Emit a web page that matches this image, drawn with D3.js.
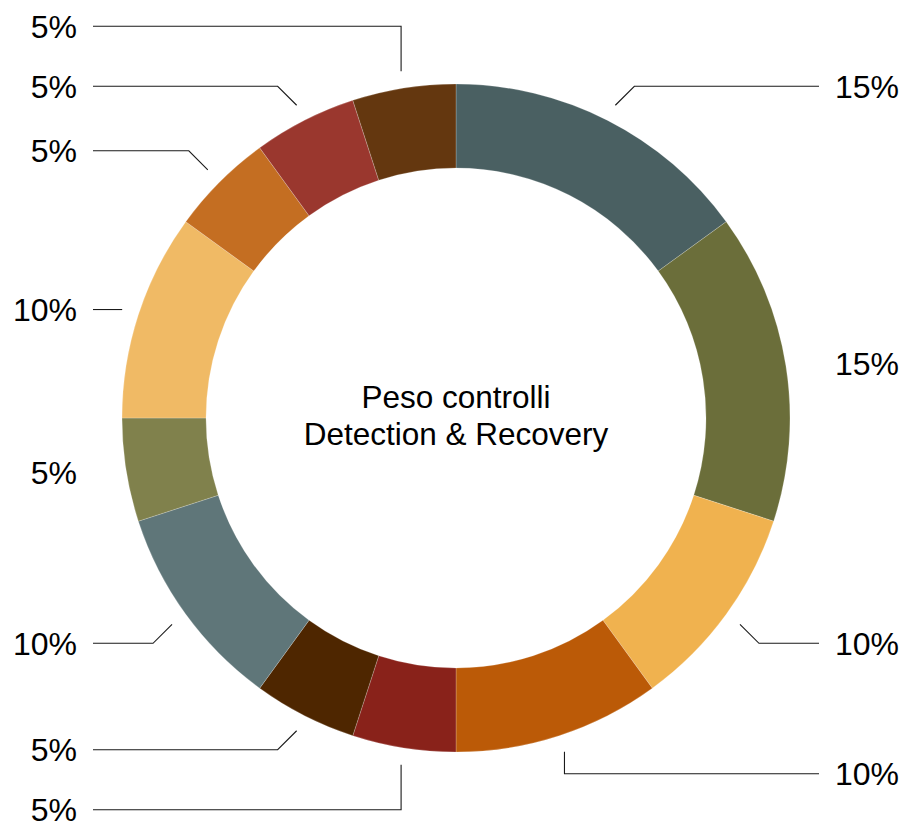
<!DOCTYPE html>
<html>
<head>
<meta charset="utf-8">
<script src="https://cdn.jsdelivr.net/npm/d3@7"></script>
<style>
  html, body { margin: 0; padding: 0; background: #fff; }
  svg { display: block; }
  text { font-family: "Liberation Sans", Arial, Helvetica, sans-serif; fill: #000; }
</style>
</head>
<body>
<svg id="chart" width="901" height="821"></svg>
<script>
// Control weights, clockwise from 12 o'clock
const categories = ["A", "B", "C", "D", "E", "F", "G", "H", "I", "J", "K", "L"];
const values = [15, 15, 10, 10, 5, 5, 10, 5, 10, 5, 5, 5];
const colors = ["#4a6062", "#6b6e3a", "#f0b24f", "#bb5a07", "#89221a", "#4e2600",
                "#5f7679", "#80814c", "#f0ba65", "#c46e22", "#9a372e", "#64370f"];
const titleLines = ["Peso controlli", "Detection & Recovery"];

const width = 901, height = 821;
const cx = 456, cy = 418;
const outerR = 334, innerR = 250;
const tickR = 351;      // where leader lines start
const lineEnd = 363;    // horizontal reach of leader lines
const minGap = 60;      // minimum vertical distance between labels on one side

const svg = d3.select("#chart");
const g = svg.append("g").attr("transform", `translate(${cx},${cy})`);

const data = categories.map((c, i) => ({ name: c, value: values[i], color: colors[i] }));
const pie = d3.pie().sort(null).value(d => d.value);
const arc = d3.arc().innerRadius(innerR).outerRadius(outerR);
const arcs = pie(data);

g.selectAll("path.slice")
  .data(arcs)
  .join("path")
  .attr("class", "slice")
  .attr("d", arc)
  .attr("fill", d => d.data.color)
  .attr("stroke", "#ffffff")
  .attr("stroke-opacity", 0.35)
  .attr("stroke-width", 0.6);

// Label layout: start point on the ring, elbow, then horizontal run
const labels = arcs.map(d => {
  const a = (d.startAngle + d.endAngle) / 2;
  const s = Math.sin(a), c = Math.cos(a);
  const sx = tickR * s, sy = -tickR * c;
  const side = s >= 0 ? 1 : -1;
  const vdir = sy >= 0 ? 1 : -1;
  let kind, ly;
  if (Math.abs(s) < 0.35) { kind = "v"; ly = sy + vdir * 22; }
  else if (Math.abs(c) < 0.35) { kind = "h"; ly = sy; }
  else { kind = "d"; ly = sy + vdir * 19; }
  return { d, a, sx, sy, side, kind, ly, pct: d.data.value + "%" };
});

// Spread labels apart vertically on each side
[-1, 1].forEach(side => {
  const sideLabels = labels.filter(l => l.side === side);
  const upper = sideLabels.filter(l => l.ly < 0).sort((p, q) => q.ly - p.ly);
  for (let i = 1; i < upper.length; i++) {
    if (upper[i].ly > upper[i - 1].ly - minGap) upper[i].ly = upper[i - 1].ly - minGap;
  }
  const lower = sideLabels.filter(l => l.ly >= 0).sort((p, q) => p.ly - q.ly);
  for (let i = 1; i < lower.length; i++) {
    if (lower[i].ly < lower[i - 1].ly + minGap) lower[i].ly = lower[i - 1].ly + minGap;
  }
});

labels.forEach(l => {
  let ex;
  if (l.kind === "v") ex = l.sx;
  else if (l.kind === "h") ex = l.sx;
  else ex = l.sx + l.side * Math.abs(l.ly - l.sy);
  const endX = l.side * lineEnd;
  l.points = [[l.sx, l.sy], [ex, l.ly], [endX, l.ly]];
  l.showLine = Math.abs(endX - ex) > 20;
});

g.selectAll("polyline.tick")
  .data(labels.filter(l => l.showLine))
  .join("polyline")
  .attr("class", "tick")
  .attr("points", l => l.points.map(p => p.join(",")).join(" "))
  .attr("fill", "none")
  .attr("stroke", "#1a1a1a")
  .attr("stroke-width", 1.1);

g.selectAll("text.pct")
  .data(labels)
  .join("text")
  .attr("class", "pct")
  .attr("x", l => l.side * (lineEnd + 16))
  .attr("y", l => l.ly)
  .attr("dy", "0.36em")
  .attr("text-anchor", l => l.side > 0 ? "start" : "end")
  .style("font-size", "32px")
  .text(l => l.pct);

// Center title
g.selectAll("text.title")
  .data(titleLines)
  .join("text")
  .attr("class", "title")
  .attr("x", 0)
  .attr("y", (d, i) => -10 + i * 37)
  .attr("text-anchor", "middle")
  .style("font-size", "31.5px")
  .text(d => d);
</script>
</body>
</html>
